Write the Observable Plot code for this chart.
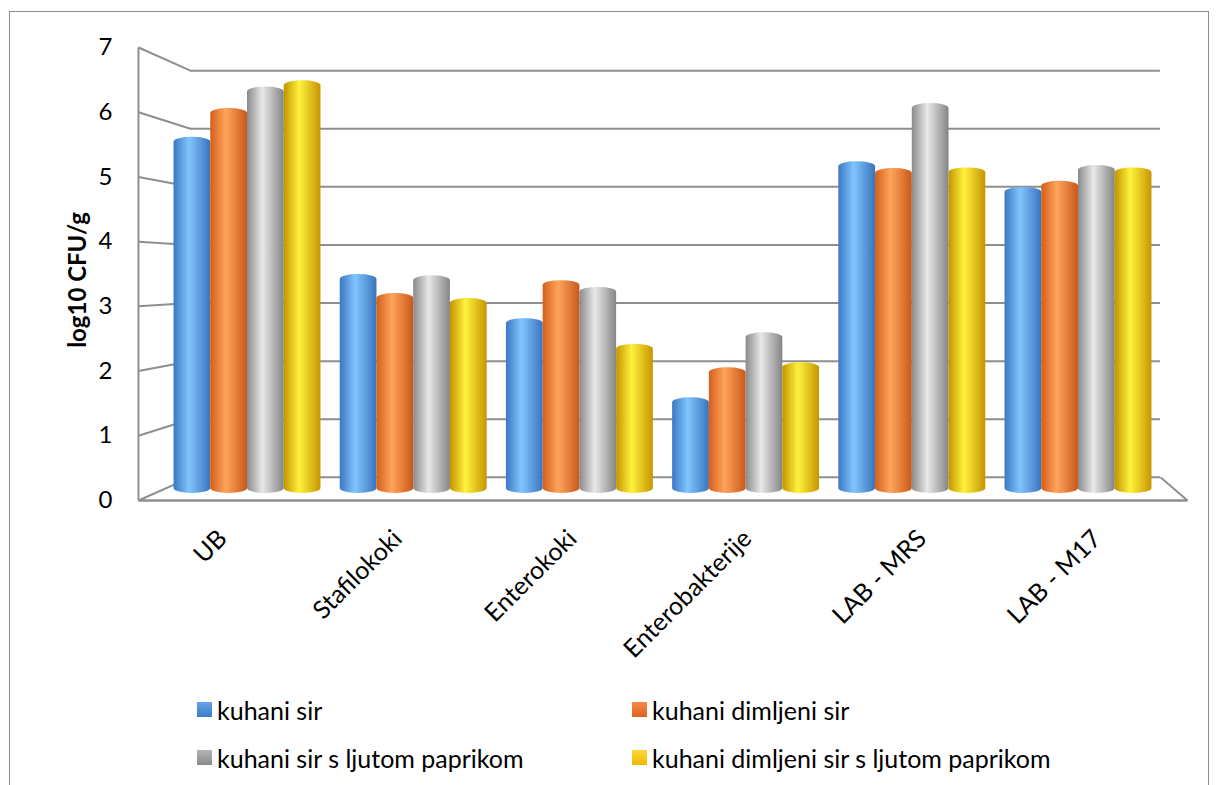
<!DOCTYPE html>
<html><head><meta charset="utf-8">
<script src="https://cdn.jsdelivr.net/npm/d3@7"></script>
<script src="https://cdn.jsdelivr.net/npm/@observablehq/plot@0.6"></script>
<style>
body{margin:0;background:#fff;font-family:Lato,sans-serif;color:#000}
#wrap{position:relative;width:1218px;height:785px;overflow:hidden}
#border{position:absolute;left:9px;top:11px;width:1200px;height:820px;border:1px solid #8c8c8c;box-sizing:border-box}
#chart{position:absolute;left:0;top:0}
#ytitle{position:absolute;left:76px;top:280px;transform:translate(-50%,-50%) rotate(-90deg);font-weight:bold;font-size:24px;white-space:nowrap}
.leg{position:absolute;display:flex;align-items:center;font-size:25px;white-space:nowrap;height:25px}
.sw{width:15px;height:15px;margin-right:5px}
</style></head>
<body><div id="wrap"><div id="border"></div><div id="chart"></div><div id="ytitle">log10 CFU/g</div><div id="legend"></div></div>
<script>
const categories = ["UB", "Stafilokoki", "Enterokoki", "Enterobakterije", "LAB - MRS", "LAB - M17"];
const series = ["kuhani sir", "kuhani dimljeni sir", "kuhani sir s ljutom paprikom", "kuhani dimljeni sir s ljutom paprikom"];
const kuhaniSir = [5.65, 3.41, 2.69, 1.40, 5.25, 4.83];
const kuhaniDimljeniSir = [6.12, 3.10, 3.31, 1.89, 5.14, 4.93];
const kuhaniSirPaprika = [6.47, 3.39, 3.20, 2.46, 6.20, 5.19];
const kuhaniDimljeniSirPaprika = [6.57, 3.02, 2.27, 1.97, 5.15, 5.15];
const yTicks = [0, 1, 2, 3, 4, 5, 6, 7];

const values = [kuhaniSir, kuhaniDimljeniSir, kuhaniSirPaprika, kuhaniDimljeniSirPaprika];
const rows = [];
categories.forEach((c, i) => series.forEach((s, k) => rows.push({cat: c, i, s: k, series: s, value: values[k][i]})));

// cylinder shading (horizontal) and legend shading (vertical)
const shades = [
  ["#3b78c2", "#80c5ff", "#3a74bc"],
  ["#d45e1a", "#ffa45c", "#c9581a"],
  ["#8a8a8a", "#e8e8e8", "#858585"],
  ["#c29400", "#fff23c", "#c69500"]
];
const legendShades = [["#63a4ea", "#3d7cc6"], ["#f4884a", "#e0621c"], ["#b4b4b4", "#8a8a8a"], ["#ffd83a", "#f0b800"]];

// simple 3D projection of the chart box
const xLo = -0.5, xHi = categories.length - 0.5, yLo = 0, yHi = 7;
const front = {x: v => 2.5 + 1.052 * (v - 2.5), y: v => 3.5 + 1.056 * (v - 3.5)};
const back = {x: v => 5.25 + 0.9727 * (v - 5.25), y: v => 3.5 + 0.948 * (v - 3.5)};
const bw = 0.221;
const gridColor = "#8f8f8f";

const plot = Plot.plot({
  width: 1218,
  height: 680,
  style: {fontFamily: "Lato, sans-serif", background: "transparent", overflow: "visible"},
  x: {domain: [xLo, xHi], range: [163.9, 1161.1], axis: null},
  y: {domain: [yLo, yHi], range: [488, 59], axis: null},
  color: {domain: series, range: series.map((_, k) => `url(#cyl${k})`)},
  marks: [
    Plot.ruleY(yTicks, {y: t => back.y(t), x1: () => back.x(xLo), x2: () => back.x(xHi), stroke: gridColor, strokeWidth: 2}),
    Plot.link(yTicks, {x1: () => front.x(xLo), y1: t => front.y(t), x2: () => back.x(xLo), y2: t => back.y(t), stroke: gridColor, strokeWidth: 2}),
    Plot.link([yLo], {x1: () => front.x(xLo), x2: () => front.x(xLo), y1: () => front.y(yLo), y2: () => front.y(yHi), stroke: gridColor, strokeWidth: 2}),
    Plot.link([yLo], {x1: () => front.x(xLo), x2: () => front.x(xHi), y1: () => front.y(yLo), y2: () => front.y(yLo), stroke: gridColor, strokeWidth: 2.5}),
    Plot.link([yLo], {x1: () => back.x(xHi), x2: () => front.x(xHi), y1: () => back.y(yLo), y2: () => front.y(yLo), stroke: gridColor, strokeWidth: 2}),
    Plot.rect(rows, {
      x1: d => d.i + (d.s - 2) * bw,
      x2: d => d.i + (d.s - 1) * bw,
      y1: () => 0,
      y2: "value",
      fill: "series",
      rx: 18, ry: 5,
      insetTop: -5, insetBottom: -5
    }),
    Plot.text(yTicks, {x: () => front.x(xLo), y: t => front.y(t), text: t => String(t), textAnchor: "end", dx: -26, fontSize: 24, fill: "#000"}),
    Plot.text(categories, {x: (d, i) => front.x(i), y: () => front.y(yLo), text: d => d, rotate: -45, textAnchor: "end", dx: -3, dy: 34, fontSize: 25, fill: "#000"})
  ]
});

const svg = d3.select(plot);
const defs = svg.insert("defs", ":first-child");
shades.forEach((c, k) => {
  const g = defs.append("linearGradient").attr("id", `cyl${k}`).attr("x1", "0").attr("x2", "1").attr("y1", "0").attr("y2", "0");
  g.append("stop").attr("offset", "0").attr("stop-color", c[0]);
  g.append("stop").attr("offset", "0.42").attr("stop-color", c[1]);
  g.append("stop").attr("offset", "1").attr("stop-color", c[2]);
});
document.getElementById("chart").appendChild(plot);

const legend = document.getElementById("legend");
const pos = [[197, 697], [632, 697], [197, 745], [632, 745]];
series.forEach((s, k) => {
  const el = document.createElement("div");
  el.className = "leg";
  el.style.left = pos[k][0] + "px";
  el.style.top = pos[k][1] + "px";
  const sw = document.createElement("div");
  sw.className = "sw";
  sw.style.background = `linear-gradient(${legendShades[k][0]}, ${legendShades[k][1]})`;
  const tx = document.createElement("span");
  tx.textContent = s;
  el.appendChild(sw); el.appendChild(tx);
  legend.appendChild(el);
});
</script>
</body></html>
